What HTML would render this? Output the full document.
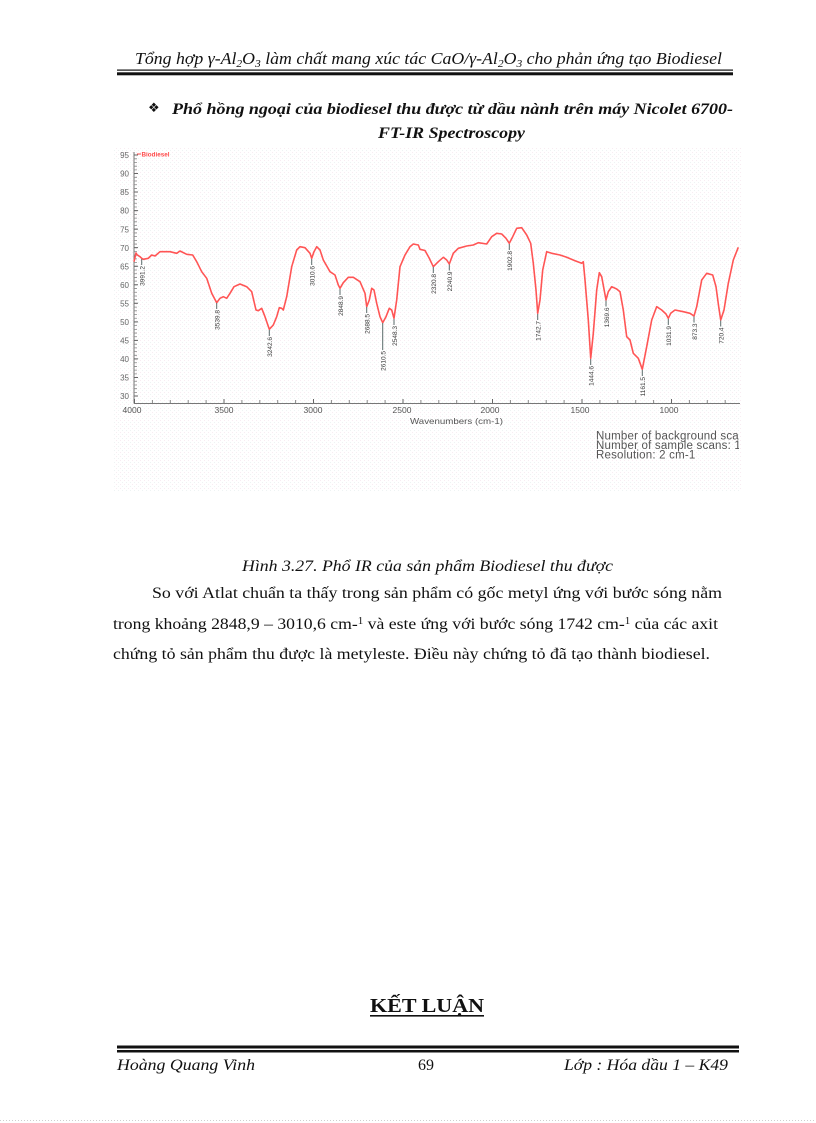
<!DOCTYPE html>
<html>
<head>
<meta charset="utf-8">
<style>
html,body{margin:0;padding:0;background:#fff;}
body{width:816px;height:1123px;overflow:hidden;}
svg{display:block;}
.serif{font-family:"Liberation Serif","Noto Serif CJK SC",serif;}
.sans{font-family:"Liberation Sans",Arial,sans-serif;}
</style>
</head>
<body>
<svg width="816" height="1123" viewBox="0 0 816 1123" xmlns="http://www.w3.org/2000/svg">
<defs>
<pattern id="dots" x="0" y="0" width="4" height="4" patternUnits="userSpaceOnUse">
<rect x="0" y="0" width="1" height="1" fill="#f8ecf2"/>
<rect x="2" y="2" width="1" height="1" fill="#eef3f3"/>
</pattern>
<clipPath id="clipR"><rect x="100" y="140" width="639" height="360"/></clipPath>
</defs>

<!-- Header -->
<text class="serif" x="135" y="64" font-size="17" font-style="italic" fill="#111" textLength="587" lengthAdjust="spacingAndGlyphs">Tổng hợp γ-Al<tspan dy="3" font-size="11">2</tspan><tspan dy="-3">O</tspan><tspan dy="3" font-size="11">3</tspan><tspan dy="-3"> làm chất mang xúc tác CaO/γ-Al</tspan><tspan dy="3" font-size="11">2</tspan><tspan dy="-3">O</tspan><tspan dy="3" font-size="11">3</tspan><tspan dy="-3"> cho phản ứng tạo Biodiesel</tspan></text>
<rect x="117" y="69.5" width="616" height="1.2" fill="#111"/>
<rect x="117" y="72.3" width="616" height="3" fill="#111"/>

<!-- Bullet title -->
<text x="148" y="112" font-size="13" fill="#111" font-family="DejaVu Sans, sans-serif">❖</text>
<text class="serif" x="172" y="114" font-size="16" font-weight="bold" font-style="italic" fill="#111" textLength="561" lengthAdjust="spacingAndGlyphs">Phổ hồng ngoại của biodiesel thu được   từ dầu nành  trên máy  Nicolet 6700-</text>
<text class="serif" x="378" y="138" font-size="16" font-weight="bold" font-style="italic" fill="#111" textLength="147" lengthAdjust="spacingAndGlyphs">FT-IR Spectroscopy</text>

<!-- Chart background -->
<rect x="113" y="147" width="628" height="345" fill="url(#dots)"/>

<!-- Axes -->
<line x1="134" y1="152" x2="134" y2="403.5" stroke="#777" stroke-width="1"/>
<line x1="134" y1="403.5" x2="740" y2="403.5" stroke="#777" stroke-width="1"/>
<line x1="135.5" y1="396.5" x2="135.5" y2="153" stroke="#888" stroke-width="3" stroke-dasharray="0.8 2.908"/>
<line x1="136" y1="396.5" x2="136" y2="153" stroke="#666" stroke-width="4" stroke-dasharray="1 17.54"/>
<line x1="134" y1="401.5" x2="740" y2="401.5" stroke="#888" stroke-width="3" stroke-dasharray="1 16.9"/>
<line x1="134" y1="401" x2="740" y2="401" stroke="#666" stroke-width="4" stroke-dasharray="1 88.5"/>

<!-- Y labels -->
<g class="sans" font-size="8" fill="#666" text-anchor="end">
<text x="129" y="158">95</text>
<text x="129" y="176.5">90</text>
<text x="129" y="195.2">85</text>
<text x="129" y="213.7">80</text>
<text x="129" y="232.3">75</text>
<text x="129" y="250.8">70</text>
<text x="129" y="269.3">65</text>
<text x="129" y="287.9">60</text>
<text x="129" y="306.4">55</text>
<text x="129" y="325">50</text>
<text x="129" y="343.5">45</text>
<text x="129" y="362">40</text>
<text x="129" y="380.6">35</text>
<text x="129" y="399">30</text>
</g>

<!-- X labels -->
<g class="sans" font-size="8.5" fill="#555" text-anchor="middle">
<text x="132" y="413">4000</text>
<text x="224" y="413">3500</text>
<text x="313" y="413">3000</text>
<text x="402" y="413">2500</text>
<text x="490" y="413">2000</text>
<text x="580" y="413">1500</text>
<text x="669" y="413">1000</text>
</g>
<text class="sans" x="410" y="424" font-size="8.5" fill="#555" textLength="93" lengthAdjust="spacingAndGlyphs">Wavenumbers (cm-1)</text>

<!-- Legend -->
<line x1="137" y1="154" x2="141" y2="154" stroke="#ff4a4a" stroke-width="1"/>
<text class="sans" x="141.5" y="156.5" font-size="6" font-weight="bold" fill="#ff4a4a" textLength="28" lengthAdjust="spacingAndGlyphs">Biodiesel</text>

<!-- Spectrum -->
<polyline fill="none" stroke="#ff5555" stroke-width="1.6" stroke-linejoin="round" points="
134,261.7 136,253 137.3,255 140,256.7 141.7,258.3 143.3,259.3 148.3,258.3 151.7,255 155,256 160,251.7 170,251.7 176.7,253.3 180,251 186.7,254.3 192.7,255 196.7,261.7 201.7,271.7 206.7,278.3 211.7,293.3 216.7,302.7 220,298.3 223.3,296.7 226.7,298.3 230,293.3 234,286.7 240,284 246.7,286.7 251.7,291.7 256,310 258.3,310.7 261.7,308.3 265,316.7 269.3,329.3 273.3,325 276.7,316.7 279.3,307.7 281.7,308.3 283.3,310 286.7,296.7 291.7,266.7 296.7,250 300,246.7 305,247.7 310,253.3 311.7,258.3 314,251.7 316.7,246.7 320,250 323.3,260 330,271.7 335,275 338.3,285 340,288.3 343.3,282.7 348.3,277.3 353.3,277.3 360,281.7 365,293.3 366.7,306.7 369.3,300 371.7,288.3 374,290 376.7,303.3 380,316.7 382.7,322.7 386,316.7 389.3,308.3 391.7,310 394,318.3 396.7,300 400,266.7 405,255 410,246.7 413.3,244 418.3,245 420,249.3 425,250.5 429.3,258.3 433.3,266.7 438.3,261.7 443.3,257.3 446.7,260 449.3,264 453.3,253.3 458.3,248.3 466.7,246 473.3,245 478.3,242.7 486.7,244 491.7,236.7 496.7,233.3 501.7,234 506,238.3 509.3,243.3 512.7,236.7 516.7,228.3 521.7,227.7 526.7,235 530.7,243.3 533.3,263.3 536,290 537.7,313.3 540,300 542.7,270 546.7,251.7 551.7,253.3 560,255 566.7,257.3 575,260.7 581.7,263.3 583.3,261.7 585,280 588.3,320 590.7,358.3 593.3,333.3 596.7,290 599.3,272.7 601.7,276.7 606,300 608.3,291.7 611.7,286.7 616.7,289 620,291.7 623.3,310 626.7,336.7 630,340 633.3,353.3 638.3,358.3 642.3,369.3 646.7,346.7 651.7,320 656.7,306.7 661.7,310 666,314 668.3,318.3 670.7,313.3 675,310 683.3,311.7 690,313.3 694,316 696.7,306.7 701.7,280 706.7,273.3 712.7,275 716,286.7 718.7,306.7 720.7,320 724,310 728.3,283.3 733.3,260 738.3,247.3"/>

<!-- Peak markers -->
<g stroke="#5a6a6a" stroke-width="1">
<line x1="141.7" y1="259" x2="141.7" y2="265"/>
<line x1="216.7" y1="303" x2="216.7" y2="309"/>
<line x1="269.3" y1="330" x2="269.3" y2="336"/>
<line x1="311.7" y1="259" x2="311.7" y2="265"/>
<line x1="340" y1="289" x2="340" y2="295"/>
<line x1="366.7" y1="307" x2="366.7" y2="313"/>
<line x1="382.7" y1="323" x2="382.7" y2="350"/>
<line x1="394" y1="319" x2="394" y2="325"/>
<line x1="433.3" y1="267" x2="433.3" y2="273"/>
<line x1="449.3" y1="264.5" x2="449.3" y2="270.5"/>
<line x1="509.3" y1="244" x2="509.3" y2="250"/>
<line x1="537.7" y1="314" x2="537.7" y2="320"/>
<line x1="590.7" y1="359" x2="590.7" y2="365"/>
<line x1="606" y1="300.5" x2="606" y2="306.5"/>
<line x1="642.3" y1="370" x2="642.3" y2="376"/>
<line x1="668.3" y1="319" x2="668.3" y2="325"/>
<line x1="694" y1="316.5" x2="694" y2="322.5"/>
<line x1="720.7" y1="320.5" x2="720.7" y2="326.5"/>
</g>
<g class="sans" font-size="6.5" fill="#3a3a3a" text-anchor="end">
<text transform="translate(144.5,266) rotate(-90)">3991.2</text>
<text transform="translate(219.5,310) rotate(-90)">3539.8</text>
<text transform="translate(272.1,337) rotate(-90)">3242.6</text>
<text transform="translate(314.5,266) rotate(-90)">3010.6</text>
<text transform="translate(342.8,296) rotate(-90)">2848.9</text>
<text transform="translate(369.5,314) rotate(-90)">2688.5</text>
<text transform="translate(385.5,351) rotate(-90)">2610.5</text>
<text transform="translate(396.8,326) rotate(-90)">2548.3</text>
<text transform="translate(436.1,274) rotate(-90)">2320.8</text>
<text transform="translate(452.1,271.5) rotate(-90)">2240.9</text>
<text transform="translate(512.1,251) rotate(-90)">1902.8</text>
<text transform="translate(540.5,321) rotate(-90)">1742.7</text>
<text transform="translate(593.5,366) rotate(-90)">1444.6</text>
<text transform="translate(608.8,307.5) rotate(-90)">1369.6</text>
<text transform="translate(645.1,377) rotate(-90)">1161.5</text>
<text transform="translate(671.1,326) rotate(-90)">1031.9</text>
<text transform="translate(696.8,323.5) rotate(-90)">873.3</text>
<text transform="translate(723.5,327.5) rotate(-90)">720.4</text>
</g>

<!-- Instrument info -->
<g clip-path="url(#clipR)" class="sans" font-size="11.5" fill="#555" letter-spacing="0.2">
<text x="596" y="439.5">Number of background scans: 32</text>
<text x="596" y="449">Number of sample scans: 16</text>
<text x="596" y="458.5">Resolution: 2 cm-1</text>
</g>

<!-- Caption -->
<text class="serif" x="242" y="571" font-size="16" font-style="italic" fill="#111" textLength="371" lengthAdjust="spacingAndGlyphs">Hình 3.27. Phổ IR của sản phẩm Biodiesel thu được</text>

<!-- Paragraph -->
<text class="serif" x="152" y="598" font-size="16" fill="#111" textLength="570" lengthAdjust="spacingAndGlyphs">So với  Atlat  chuẩn  ta thấy trong sản phẩm  có gốc metyl ứng với  bước sóng nằm</text>
<text class="serif" x="113" y="629" font-size="16" fill="#111" textLength="605" lengthAdjust="spacingAndGlyphs">trong khoảng  2848,9 – 3010,6 cm-<tspan dy="-5" font-size="10">1</tspan><tspan dy="5"> và este ứng với bước sóng 1742 cm-</tspan><tspan dy="-5" font-size="10">1</tspan><tspan dy="5"> của các axit</tspan></text>
<text class="serif" x="113" y="659" font-size="16" fill="#111" textLength="597" lengthAdjust="spacingAndGlyphs">chứng  tỏ sản phẩm  thu được là metyleste. Điều này  chứng tỏ đã tạo thành  biodiesel.</text>

<!-- KET LUAN -->
<text class="serif" x="370" y="1012" font-size="20" font-weight="bold" fill="#111" textLength="114" lengthAdjust="spacingAndGlyphs">KẾT LUẬN</text>
<rect x="370" y="1015" width="114" height="1.6" fill="#111"/>

<!-- Footer -->
<rect x="117" y="1045.5" width="622" height="3" fill="#111"/>
<rect x="117" y="1050" width="622" height="2.5" fill="#111"/>
<text class="serif" x="117" y="1070" font-size="16" font-style="italic" fill="#111" textLength="138" lengthAdjust="spacingAndGlyphs">Hoàng Quang Vinh</text>
<text class="serif" x="418" y="1070" font-size="16" fill="#111">69</text>
<text class="serif" x="564" y="1070" font-size="16" font-style="italic" fill="#111" textLength="164" lengthAdjust="spacingAndGlyphs">Lớp : Hóa dầu 1 – K49</text>

<line x1="0" y1="1120.5" x2="816" y2="1120.5" stroke="#cfcfcf" stroke-width="1" stroke-dasharray="1 2"/>
</svg>
</body>
</html>
